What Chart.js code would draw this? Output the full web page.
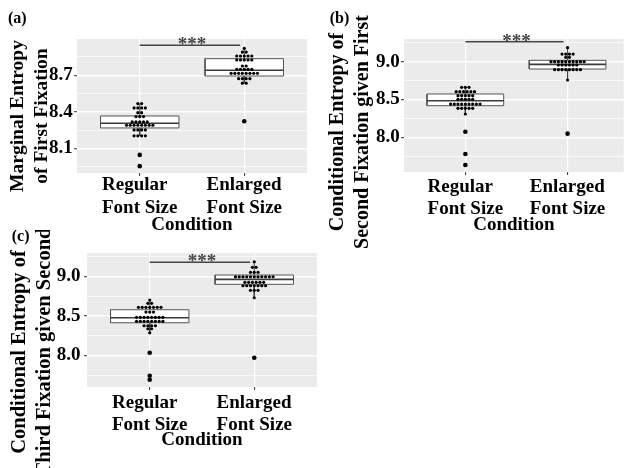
<!DOCTYPE html>
<html><head><meta charset="utf-8">
<script src="https://cdn.jsdelivr.net/npm/chart.js@4/dist/chart.umd.min.js"></script>
<style>
html,body{margin:0;padding:0;background:#fff;width:626px;height:468px;overflow:hidden;position:relative}
canvas{position:absolute;background:transparent}
</style></head><body>
<canvas id="ca" width="313" height="245" style="left:0;top:0"></canvas>
<canvas id="cb" width="313" height="255" style="left:313px;top:0"></canvas>
<canvas id="cc" width="320" height="238" style="left:0;top:230px"></canvas>
<script>
const FONT = '"Liberation Serif", "Times New Roman", serif';
const CATEGORIES = [['Regular','Font Size'],['Enlarged','Font Size']];
const X_TITLE = 'Condition';
const SIG_TEXT = '***';
const DOT_STEP = 0.036;

// ---- Panel (a)
const A_TAG = '(a)';
const A_YTITLE = ['Marginal Entropy','of First Fixation'];
const A_MAJOR = [8.1, 8.4, 8.7];
const A_MINOR = [7.95, 8.25, 8.55, 8.85];
const A_REG_LEVELS = [8.468, 8.433, 8.394, 8.362, 8.318, 8.291, 8.253, 8.204, 8.048, 7.956];
const A_REG_COUNTS = [2, 4, 2, 3, 5, 8, 4, 4, 1, 1];
const A_ENL_LEVELS = [8.92, 8.89, 8.858, 8.825, 8.776, 8.749, 8.716, 8.672, 8.635, 8.324];
const A_ENL_COUNTS = [1, 2, 5, 5, 2, 5, 8, 4, 2, 1];
const A_Q1 = [8.269, 8.694];
const A_MED = [8.307, 8.741];
const A_Q3 = [8.367, 8.836];
const A_LO = [8.204, 8.635];
const A_HI = [8.468, 8.92];
const A_SIG = 8.945;

// ---- Panel (b)
const B_TAG = '(b)';
const B_YTITLE = ['Conditional Entropy of','Second Fixation given First'];
const B_MAJOR = [8.0, 8.5, 9.0];
const B_MINOR = [7.75, 8.25, 8.75, 9.25];
const B_REG_LEVELS = [8.661, 8.603, 8.55, 8.503, 8.44, 8.383, 8.308, 8.074, 7.779, 7.634];
const B_REG_COUNTS = [3, 6, 5, 5, 9, 5, 1, 1, 1, 1];
const B_ENL_LEVELS = [9.185, 9.10, 9.058, 9.0, 8.956, 8.894, 8.758, 8.048];
const B_ENL_COUNTS = [1, 4, 2, 10, 6, 8, 1, 1];
const B_Q1 = [8.418, 8.903];
const B_MED = [8.484, 8.965];
const B_Q3 = [8.573, 9.018];
const B_LO = [8.308, 8.758];
const B_HI = [8.661, 9.185];
const B_SIG = 9.265;

// ---- Panel (c)
const C_TAG = '(c)';
const C_YTITLE = ['Conditional Entropy of','Third Fixation given Second'];
const C_MAJOR = [8.0, 8.5, 9.0];
const C_MINOR = [7.75, 8.25, 8.75, 9.25];
const C_REG_LEVELS = [8.70, 8.659, 8.608, 8.549, 8.482, 8.431, 8.375, 8.337, 8.286, 8.033, 7.741, 7.691];
const C_REG_COUNTS = [1, 2, 7, 3, 8, 8, 4, 2, 1, 1, 1, 1];
const C_ENL_LEVELS = [9.186, 9.115, 9.052, 8.996, 8.925, 8.882, 8.824, 8.73, 7.97];
const C_ENL_COUNTS = [1, 2, 3, 11, 6, 7, 3, 1, 1];
const C_Q1 = [8.413, 8.9];
const C_MED = [8.477, 8.963];
const C_Q3 = [8.578, 9.018];
const C_LO = [8.286, 8.73];
const C_HI = [8.70, 9.186];
const C_SIG = 9.179;

// ---- layout (positions / styles only)
const LAYOUT_A = {el:'ca', w:313, h:245, padTop:39, padRight:6, yW:77, xH:72, ymin:7.90, ymax:8.997, xmax:2.6,
  yTickPad:1.3, xTickPad:-2, xLineH:1.2, titlePadB:9, titleSize:19.5, titleX:[22.7,47], titleY:116, tag:[8,23]};
const LAYOUT_B = {el:'cb', w:313, h:255, padTop:39, padRight:0, yW:91, xH:83, ymin:7.541, ymax:9.300, xmax:2.549,
  yTickPad:1.3, xTickPad:1.5, xLineH:1.15, titlePadB:19, titleSize:20, titleX:[30,55], titleY:132, tag:[16.7,23]};
const LAYOUT_C = {el:'cc', w:320, h:238, padTop:23, padRight:3, yW:87, xH:81, ymin:7.599, ymax:9.297, xmax:2.6,
  yTickPad:3.5, xTickPad:2, xLineH:1.15, titlePadB:16.3, titleSize:20.5, titleX:[25,50], titleY:122, tag:[11.7,10.5]};

const TICK_SIZE = 19;
const measureCtx = document.createElement('canvas').getContext('2d');
measureCtx.font = 'bold ' + TICK_SIZE + 'px ' + FONT;
const LABEL_HALF = Math.max(...CATEGORIES.flat().map(t => measureCtx.measureText(t).width)) / 2;

function dotPoints(levels, counts, center) {
  const pts = [];
  levels.forEach((v, i) => {
    const n = counts[i];
    for (let k = 0; k < n; k++) pts.push({x: center + (k - (n - 1) / 2) * DOT_STEP, y: v});
  });
  return pts;
}

function lineDs(data, color, width, order, extra) {
  return Object.assign({data, showLine:true, borderColor:color, borderWidth:width, pointRadius:0,
    pointHoverRadius:0, fill:false, order, tension:0}, extra || {});
}

function makePanel(L, P) {
  const datasets = [];
  const groups = [[P.regLevels, P.regCounts], [P.enlLevels, P.enlCounts]];
  groups.forEach((g, gi) => {
    const c = gi + 1, hw = 0.375;
    datasets.push(lineDs([{x:c,y:P.q3[gi]},{x:c,y:P.hi[gi]}], '#444', 1, 8));
    datasets.push(lineDs([{x:c,y:P.q1[gi]},{x:c,y:P.lo[gi]}], '#444', 1, 8));
    datasets.push(lineDs([{x:c-hw,y:P.q1[gi]},{x:c+hw,y:P.q1[gi]},{x:c+hw,y:P.q3[gi]},{x:c-hw,y:P.q3[gi]},{x:c-hw,y:P.q1[gi]}],
      '#555', 1, 6, {fill:'shape', backgroundColor:'#ffffff'}));
    datasets.push(lineDs([{x:c-hw,y:P.med[gi]},{x:c+hw,y:P.med[gi]}], '#3a3a3a', 1.6, 4));
    const pts = dotPoints(g[0], g[1], c);
    const radii = pts.map(p => (p.y < P.lo[gi] - 1e-9 || p.y > P.hi[gi] + 1e-9) ? 2.3 : 1.6);
    datasets.push({data: pts, pointRadius: radii, pointHoverRadius: radii, pointBackgroundColor:'#000',
      pointBorderWidth:0, showLine:false, order:0});
  });
  datasets.push(lineDs([{x:1,y:P.sig},{x:1.96,y:P.sig}], '#444', 1.5, 2));

  const all = P.major.concat(P.minor).sort((a, b) => a - b);
  const isMajor = v => P.major.some(m => Math.abs(m - v) < 1e-6);
  const tickFont = {family:FONT, size:TICK_SIZE, weight:'bold', lineHeight:L.xLineH};

  const bg = {id:'bg', beforeDraw(chart) {
    const {ctx, chartArea:a} = chart;
    ctx.save(); ctx.fillStyle = '#EBEBEB';
    ctx.fillRect(a.left, a.top, a.right - a.left, a.bottom - a.top); ctx.restore();
  }};
  const texts = {id:'texts', afterDraw(chart) {
    const ctx = chart.ctx, xs = chart.scales.x, ys = chart.scales.y;
    ctx.save();
    ctx.fillStyle = '#000';
    ctx.font = 'bold 16px ' + FONT;
    ctx.textAlign = 'left'; ctx.textBaseline = 'alphabetic';
    ctx.fillText(P.tag, L.tag[0], L.tag[1]);
    ctx.font = 'bold ' + L.titleSize + 'px ' + FONT;
    ctx.textAlign = 'center';
    P.ytitle.forEach((t, i) => {
      ctx.save(); ctx.translate(L.titleX[i], L.titleY); ctx.rotate(-Math.PI / 2);
      ctx.fillText(t, 0, 0); ctx.restore();
    });
    ctx.fillStyle = '#444';
    ctx.font = 'bold 19px ' + FONT;
    ctx.fillText(SIG_TEXT, xs.getPixelForValue(1.5), ys.getPixelForValue(P.sig) + 5);
    ctx.restore();
  }};

  return new Chart(document.getElementById(L.el), {
    type:'scatter',
    data:{datasets},
    plugins:[bg, texts],
    options:{
      responsive:false, animation:false, events:[],
      layout:{padding:{left:0, top:L.padTop, right:L.padRight, bottom:0}},
      plugins:{legend:{display:false}, tooltip:{enabled:false}},
      scales:{
        x:{type:'linear', min:0.4, max:L.xmax,
          afterBuildTicks: s => { s.ticks = [{value:1},{value:2}]; },
          afterFit: s => { s.height = L.xH; s.paddingLeft = 0; s.paddingRight = 0; },
          ticks:{autoSkip:false, maxRotation:0, minRotation:0, align:'start', labelOffset:-LABEL_HALF,
            padding:L.xTickPad, color:'#000', font:tickFont,
            callback: v => CATEGORIES[Math.round(v) - 1]},
          grid:{color:'#ffffff', lineWidth:1.2, tickLength:3, tickColor:'#333', tickWidth:1},
          border:{display:false},
          title:{display:true, text:X_TITLE, color:'#000',
            font:{family:FONT, size:TICK_SIZE, weight:'bold', lineHeight:1.2},
            padding:{top:0, bottom:L.titlePadB}}
        },
        y:{type:'linear', min:L.ymin, max:L.ymax,
          afterBuildTicks: s => { s.ticks = all.map(v => ({value:v})); },
          afterFit: s => { s.width = L.yW; s.paddingTop = 0; s.paddingBottom = 0; },
          ticks:{autoSkip:false, padding:L.yTickPad, color:'#000',
            font:{family:FONT, size:TICK_SIZE, weight:'bold'},
            callback: v => isMajor(v) ? v.toFixed(1) : ''},
          grid:{color:'#ffffff', lineWidth: c => (c.tick && isMajor(c.tick.value)) ? 1.4 : 0.7,
            tickLength:3, tickWidth:1,
            tickColor: c => (c.tick && isMajor(c.tick.value)) ? '#333' : 'rgba(0,0,0,0)'},
          border:{display:false}
        }
      }
    }
  });
}

makePanel(LAYOUT_A, {tag:A_TAG, ytitle:A_YTITLE, major:A_MAJOR, minor:A_MINOR,
  regLevels:A_REG_LEVELS, regCounts:A_REG_COUNTS, enlLevels:A_ENL_LEVELS, enlCounts:A_ENL_COUNTS,
  q1:A_Q1, med:A_MED, q3:A_Q3, lo:A_LO, hi:A_HI, sig:A_SIG});
makePanel(LAYOUT_B, {tag:B_TAG, ytitle:B_YTITLE, major:B_MAJOR, minor:B_MINOR,
  regLevels:B_REG_LEVELS, regCounts:B_REG_COUNTS, enlLevels:B_ENL_LEVELS, enlCounts:B_ENL_COUNTS,
  q1:B_Q1, med:B_MED, q3:B_Q3, lo:B_LO, hi:B_HI, sig:B_SIG});
makePanel(LAYOUT_C, {tag:C_TAG, ytitle:C_YTITLE, major:C_MAJOR, minor:C_MINOR,
  regLevels:C_REG_LEVELS, regCounts:C_REG_COUNTS, enlLevels:C_ENL_LEVELS, enlCounts:C_ENL_COUNTS,
  q1:C_Q1, med:C_MED, q3:C_Q3, lo:C_LO, hi:C_HI, sig:C_SIG});
</script>
</body></html>
